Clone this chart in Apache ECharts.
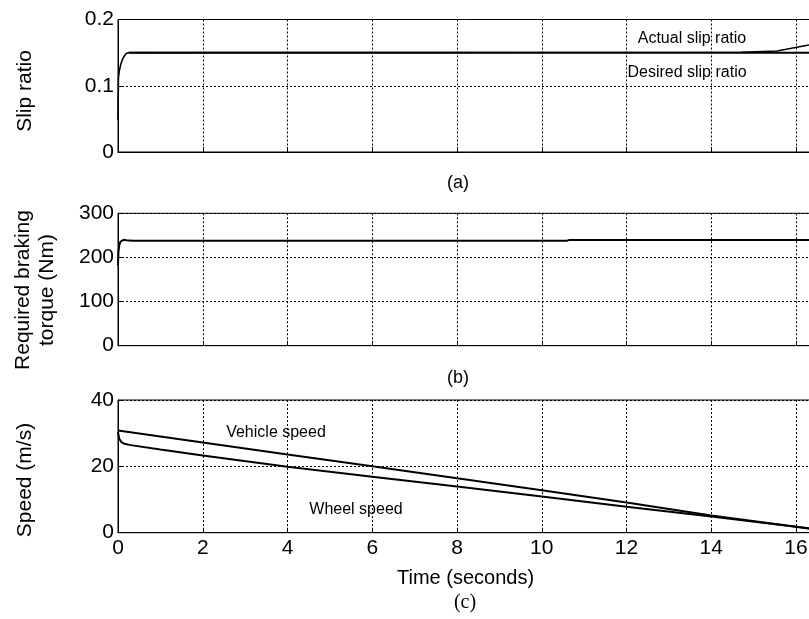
<!DOCTYPE html>
<html>
<head>
<meta charset="utf-8">
<title>Braking simulation</title>
<script src="https://cdn.jsdelivr.net/npm/echarts@6/dist/echarts.min.js"></script>
<style>
  html, body { margin: 0; padding: 0; background: #fff; overflow: hidden; }
  #chart { width: 820px; height: 619px; }
</style>
</head>
<body>
<div id="chart"></div>
<script>
// ---- (a) slip ratio ----
const slipTime = [0, 0.01, 0.03, 0.06, 0.1, 0.15, 0.2, 0.27, 14.7, 15.55, 16.3, 16.4];
const slipActual = [0.048, 0.112, 0.122, 0.131, 0.139, 0.145, 0.149, 0.15, 0.1505, 0.1525, 0.1615, 0.163];
const desiredTime = [0.27, 16.4];
const slipDesired = [0.15, 0.15];

// ---- (b) required braking torque (Nm) ----
const torqueTime = [0, 0.01, 0.03, 0.06, 0.09, 0.13, 0.2, 0.35, 10.6, 10.65, 16.4];
const torque = [182, 212, 228, 236, 239.5, 240, 239, 238, 238, 239.5, 239.5];

// ---- (c) vehicle and wheel speed (m/s) ----
const vehicleTime = [0, 2, 4, 6, 8, 10, 12, 14, 16, 16.4];
const vehicleSpeed = [30.8, 27.2, 23.6, 20.0, 16.4, 12.8, 9.1, 5.2, 1.8, 1.1];
const wheelTime = [0, 0.03, 0.08, 0.15, 0.3, 1, 2, 4, 6, 8, 10, 12, 14, 16, 16.4];
const wheelSpeed = [30.3, 28.3, 27.3, 26.8, 26.4, 25.1, 23.3, 19.9, 16.9, 13.9, 10.9, 7.8, 4.9, 1.8, 1.1];

// axis ticks
const timeTicks = { min: 0, max: 16.4, interval: 2 };
const slipTicks = { min: 0, max: 0.2, interval: 0.1 };
const torqueTicks = { min: 0, max: 300, interval: 100 };
const speedTicks = { min: 0, max: 40, interval: 20 };

const FONT = 'Liberation Sans, Arial, Helvetica, sans-serif';
const zip = (xs, ys) => xs.map((x, i) => [x, ys[i]]);

const gridLine = { show: true, lineStyle: { color: '#000', type: [2, 2], width: 1 } };
const axisLine = { show: true, onZero: false, lineStyle: { color: '#000', width: 1 } };
const axisTick = { show: true, inside: true, length: 5, lineStyle: { color: '#000', width: 1 } };

function xAxis(gridIndex, showLabels) {
  const ax = {
    type: 'value', gridIndex,
    min: timeTicks.min, max: timeTicks.max, interval: timeTicks.interval,
    axisLine, axisTick, splitLine: gridLine,
    axisLabel: {
      show: showLabels, showMaxLabel: false, margin: 5,
      color: '#000', fontFamily: FONT, fontSize: 21
    }
  };
  if (showLabels) {
    ax.name = 'Time (seconds)';
    ax.nameLocation = 'middle';
    ax.nameGap = 36;
    ax.nameTextStyle = { color: '#000', fontFamily: FONT, fontSize: 20 };
  }
  return ax;
}

function yAxis(gridIndex, t, fmt) {
  return {
    type: 'value', gridIndex,
    min: t.min, max: t.max, interval: t.interval,
    axisLine, axisTick, splitLine: gridLine,
    axisLabel: {
      margin: 4, color: '#000', fontFamily: FONT, fontSize: 21,
      formatter: fmt
    }
  };
}

function line(name, xi, xs, ys, width) {
  return {
    name, type: 'line', xAxisIndex: xi, yAxisIndex: xi,
    data: zip(xs, ys), showSymbol: false, symbol: 'none',
    lineStyle: { color: '#000', width },
    animation: false, z: 3
  };
}

function txt(x, y, text, size, opts) {
  return Object.assign({
    type: 'text', x, y,
    style: {
      text, fill: '#000', font: size + 'px ' + FONT,
      align: 'center', verticalAlign: 'middle'
    },
    z: 10
  }, opts || {});
}

const chart = echarts.init(document.getElementById('chart'), null, { renderer: 'canvas' });
chart.setOption({
  backgroundColor: '#fff',
  animation: false,
  grid: [
    { left: 118, top: 19.5, width: 695, height: 132.5, show: true, borderColor: '#000', borderWidth: 1 },
    { left: 118, top: 213.3, width: 695, height: 132.4, show: true, borderColor: '#000', borderWidth: 1 },
    { left: 118, top: 400, width: 695, height: 132.7, show: true, borderColor: '#000', borderWidth: 1 }
  ],
  xAxis: [xAxis(0, false), xAxis(1, false), xAxis(2, true)],
  yAxis: [
    yAxis(0, slipTicks, v => (v === 0 ? '0' : v.toFixed(1))),
    yAxis(1, torqueTicks),
    yAxis(2, speedTicks)
  ],
  series: [
    line('Desired slip ratio', 0, desiredTime, slipDesired, 2),
    line('Actual slip ratio', 0, slipTime, slipActual, 1.6),
    line('Required braking torque', 1, torqueTime, torque, 2),
    line('Vehicle speed', 2, vehicleTime, vehicleSpeed, 2),
    line('Wheel speed', 2, wheelTime, wheelSpeed, 2)
  ],
  graphic: [
    txt(25, 91, 'Slip ratio', 21, { rotation: Math.PI / 2 }),
    {
      type: 'text', x: 35, y: 290, rotation: Math.PI / 2,
      style: {
        text: 'Required braking\ntorque (Nm)', fill: '#000', font: '21px ' + FONT,
        align: 'center', verticalAlign: 'middle', lineHeight: 24
      }
    },
    txt(25, 480, 'Speed (m/s)', 21, { rotation: Math.PI / 2 }),
    txt(458, 183, '(a)', 18),
    txt(458, 378, '(b)', 18),
    {
      type: 'text', x: 465, y: 603,
      style: {
        text: '(c)', fill: '#000', font: '20px Liberation Serif, Times New Roman, serif',
        align: 'center', verticalAlign: 'middle'
      }
    },
    txt(692, 39, 'Actual slip ratio', 16),
    txt(687, 73, 'Desired slip ratio', 16),
    txt(276, 433, 'Vehicle speed', 16),
    txt(356, 510, 'Wheel speed', 16)
  ]
});
</script>
</body>
</html>
